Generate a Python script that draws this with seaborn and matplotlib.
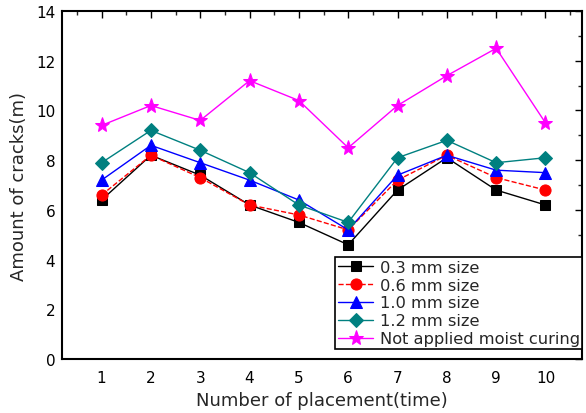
import matplotlib
matplotlib.use("Agg")
import matplotlib.pyplot as plt
from matplotlib.ticker import MultipleLocator
import seaborn as sns
import pandas as pd

placement = [1, 2, 3, 4, 5, 6, 7, 8, 9, 10]
size_03 = [6.4, 8.2, 7.4, 6.2, 5.5, 4.6, 6.8, 8.1, 6.8, 6.2]
size_06 = [6.6, 8.2, 7.3, 6.2, 5.8, 5.2, 7.2, 8.2, 7.3, 6.8]
size_10 = [7.2, 8.6, 7.9, 7.2, 6.4, 5.2, 7.4, 8.2, 7.6, 7.5]
size_12 = [7.9, 9.2, 8.4, 7.5, 6.2, 5.5, 8.1, 8.8, 7.9, 8.1]
no_curing = [9.4, 10.2, 9.6, 11.2, 10.4, 8.5, 10.2, 11.4, 12.5, 9.5]
series_names = ["0.3 mm size", "0.6 mm size", "1.0 mm size", "1.2 mm size",
                "Not applied moist curing"]
x_ticks = [1, 2, 3, 4, 5, 6, 7, 8, 9, 10]
y_ticks = [0, 2, 4, 6, 8, 10, 12, 14]

sns.set_theme(style="white")
plt.rcParams["font.family"] = ["DejaVu Sans"]

frames = []
for name, vals in zip(series_names, [size_03, size_06, size_10, size_12, no_curing]):
    frames.append(pd.DataFrame({"placement": placement, "cracks": vals, "series": name}))
df = pd.concat(frames, ignore_index=True)

styles = {
    "0.3 mm size": dict(color="black", marker="s", linestyle="-", markersize=7),
    "0.6 mm size": dict(color="red", marker="o", linestyle="--", markersize=8),
    "1.0 mm size": dict(color="blue", marker="^", linestyle="-", markersize=8.5),
    "1.2 mm size": dict(color="#008080", marker="D", linestyle="-", markersize=7),
    "Not applied moist curing": dict(color="magenta", marker="*", linestyle="-", markersize=11),
}

fig = plt.figure(figsize=(5.86, 4.14), dpi=100)
ax = fig.add_axes([0.106, 0.130, 0.888, 0.841])

for name in series_names:
    st = styles[name]
    sub = df[df["series"] == name]
    sns.lineplot(data=sub, x="placement", y="cracks", ax=ax, label=name,
                 color=st["color"], marker=st["marker"], linestyle=st["linestyle"],
                 markersize=st["markersize"], markeredgecolor=st["color"],
                 markerfacecolor=st["color"], linewidth=1.0)

ax.set_xlim(0.2, 10.75)
ax.set_ylim(0, 14)
ax.set_xticks(x_ticks)
ax.set_yticks(y_ticks)
ax.xaxis.set_minor_locator(MultipleLocator(0.5))
ax.yaxis.set_minor_locator(MultipleLocator(1))
ax.tick_params(which="major", direction="in", length=5, width=1, top=True, right=True,
               labelsize=11, colors="black", pad=8)
ax.tick_params(which="minor", direction="in", length=3, width=1, top=True, right=True)
ax.tick_params(axis="y", pad=5)
for sp in ax.spines.values():
    sp.set_color("black")
    sp.set_linewidth(1.5)

ax.set_xlabel("Number of placement(time)", fontsize=13, labelpad=4)
ax.set_ylabel("Amount of cracks(m)", fontsize=13, labelpad=6)

leg = ax.legend(loc="lower right", bbox_to_anchor=(1.0, 0.03), fontsize=11.7,
                frameon=True, fancybox=False, edgecolor="black", framealpha=1,
                borderpad=0.15, labelspacing=0.18, handlelength=2.2,
                handletextpad=0.4, borderaxespad=0.0)
leg.get_frame().set_linewidth(1.2)

fig.savefig("out.png", dpi=100)
